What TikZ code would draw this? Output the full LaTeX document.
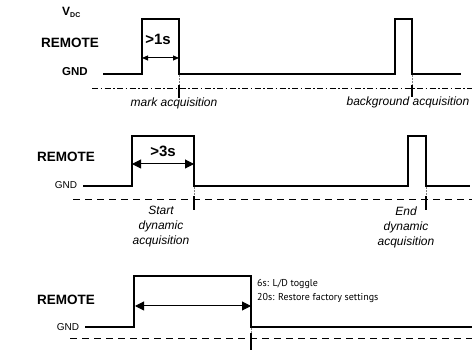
\documentclass[tikz,border=0pt]{standalone}
\usepackage{fontspec}
\setmainfont{Liberation Sans}
\newfontfamily\myriad{PT Sans}
\usetikzlibrary{arrows.meta}
\begin{document}
\begin{tikzpicture}[x=1pt,y=-1pt,
  signal/.style={line width=2pt,line join=miter},
  baseline/.style={line width=0.9pt},
  dashdot/.style={baseline,dash pattern=on 6pt off 2.5pt on 1.5pt off 2.5pt},
  dashline/.style={baseline,dash pattern=on 7pt off 5pt},
  tickmark/.style={line width=1.6pt},
  guide/.style={line width=0.5pt,densely dotted,gray},
  smallarrow/.style={line width=1pt,{Triangle[length=6pt,width=5pt]}-{Triangle[length=6pt,width=5pt]}},
  bigarrow/.style={line width=1pt,{Triangle[length=9pt,width=9pt]}-{Triangle[length=9pt,width=9pt]}},
  lbl/.style={inner sep=0pt,font=\bfseries\fontsize{13.5}{14}\selectfont},
  gndb/.style={inner sep=0pt,font=\bfseries\fontsize{11.5}{12}\selectfont},
  gnd/.style={inner sep=0pt,font=\fontsize{10}{11}\selectfont},
  dur/.style={inner sep=0pt,font=\bfseries\fontsize{15}{16}\selectfont},
  note/.style={inner sep=0pt,align=center,font=\itshape\fontsize{12}{15}\selectfont},
  info/.style={inner sep=0pt,align=left,font=\myriad\fontsize{10}{14}\selectfont}]
\useasboundingbox (0,0) rectangle (472,352);

% ---------- panel 1
\node[inner sep=0pt,anchor=west,font=\bfseries\fontsize{12}{12}\selectfont] (vdc) at (62,12.5) {V\raisebox{-0.2em}{\fontsize{7}{7}\selectfont DC}};
\node[lbl] (r1) at (70,43) {REMOTE};
\node[gndb] (g1) at (75,72) {GND};
\node[dur] (d1) at (158,39) {>1s};
\draw[signal] (103,74) -- (142,74) -- (142,19) -- (179,19) -- (179,74) -- (395,74) -- (395,19) -- (412,19) -- (412,74) -- (461,74);
\draw[dashdot] (92,88) -- (472,88);
\coordinate (a1l) at (142,58);
\coordinate (a1r) at (179,58);
\draw[smallarrow] (a1l) -- (a1r);
\draw[guide] (179,75) -- (179,86);
\draw[tickmark] (179,85) -- (179,98);
\draw[guide] (412,75) -- (412,86);
\draw[tickmark] (412,85) -- (412,97);
\node[note] (n1) at (174,103) {mark acquisition};
\node[note] (n2) at (408,102) {background acquisition};

% ---------- panel 2
\node[lbl] (r2) at (66,157) {REMOTE};
\node[gnd] (g2) at (66,185) {GND};
\node[dur] (d2) at (163,151) {>3s};
\draw[signal] (83,186) -- (132,186) -- (132,136) -- (194,136) -- (194,186) -- (408,186) -- (408,136) -- (426,136) -- (426,186) -- (470,186);
\draw[dashline] (73,199) -- (472,199);
\coordinate (a2l) at (132,164);
\coordinate (a2r) at (194,164);
\draw[bigarrow] (a2l) -- (a2r);
\draw[guide] (194,187) -- (194,197);
\draw[tickmark] (194,196) -- (194,210);
\draw[guide] (426,187) -- (426,197);
\draw[tickmark] (426,196) -- (426,210);
\node[note] (n3) at (161,227) {Start\\dynamic\\acquisition};
\node[note] (n4) at (406,227) {End\\dynamic\\acquisition};

% ---------- panel 3
\node[lbl] (r3) at (66,300) {REMOTE};
\node[gnd] (g3) at (68,327) {GND};
\draw[signal] (85,327) -- (134,327) -- (134,276) -- (251,276) -- (251,327) -- (472,327);
\draw[dashline] (70,338) -- (472,338);
\coordinate (a3l) at (135,306);
\coordinate (a3r) at (251,306);
\draw[bigarrow] (a3l) -- (a3r);
\draw[guide] (251,328) -- (251,334);
\draw[tickmark] (251,333) -- (251,350);
\node[info,anchor=north west] (t3) at (257,279) {6s: L/D toggle\\20s: Restore factory settings};
\end{tikzpicture}
\end{document}
